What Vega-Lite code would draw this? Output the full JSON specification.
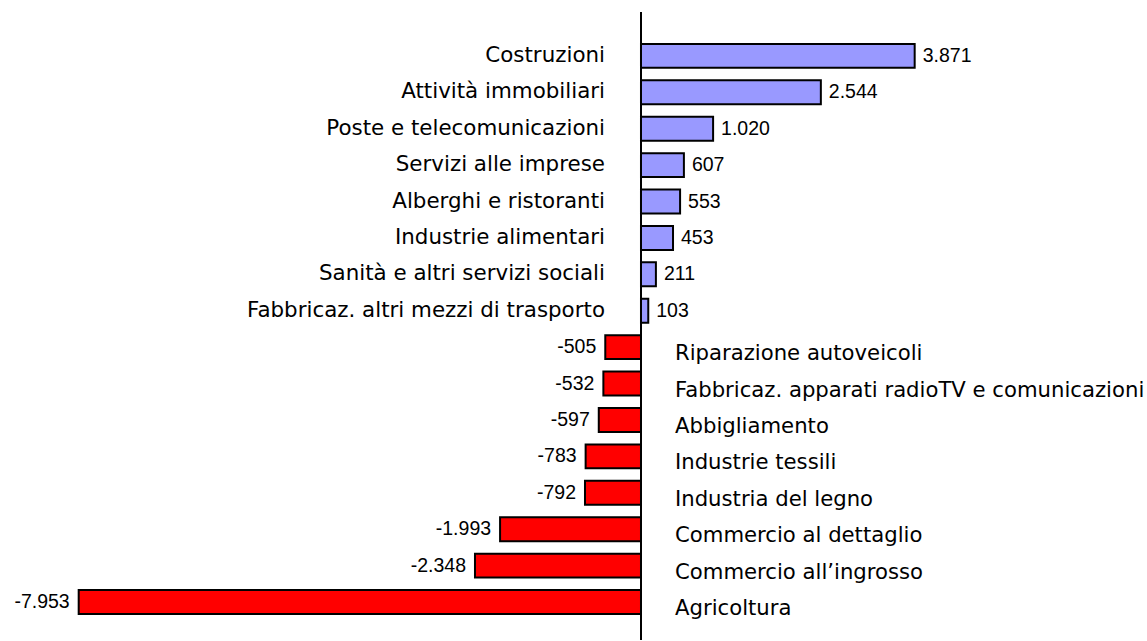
{
  "$schema": "https://vega.github.io/schema/vega-lite/v6.json",
  "width": 1147,
  "height": 641,
  "autosize": {"type": "fit", "contains": "padding"},
  "padding": {"left": 0, "right": 0, "top": 11, "bottom": 0},
  "background": "white",
  "config": {
    "view": {"stroke": null},
    "locale": {"number": {"decimal": ",", "thousands": ".", "grouping": [3], "currency": ["€", ""], "minus": "-"}}
  },
  "data": {
    "values": [
      {"settore": "Costruzioni", "valore": 3871},
      {"settore": "Attività immobiliari", "valore": 2544},
      {"settore": "Poste e telecomunicazioni", "valore": 1020},
      {"settore": "Servizi alle imprese", "valore": 607},
      {"settore": "Alberghi e ristoranti", "valore": 553},
      {"settore": "Industrie alimentari", "valore": 453},
      {"settore": "Sanità e altri servizi sociali", "valore": 211},
      {"settore": "Fabbricaz. altri mezzi di trasporto", "valore": 103},
      {"settore": "Riparazione autoveicoli", "valore": -505},
      {"settore": "Fabbricaz. apparati radioTV e comunicazioni", "valore": -532},
      {"settore": "Abbigliamento", "valore": -597},
      {"settore": "Industrie tessili", "valore": -783},
      {"settore": "Industria del legno", "valore": -792},
      {"settore": "Commercio al dettaglio", "valore": -1993},
      {"settore": "Commercio all’ingrosso", "valore": -2348},
      {"settore": "Agricoltura", "valore": -7953}
    ]
  },
  "encoding": {
    "y": {
      "field": "settore", "type": "nominal", "sort": null, "axis": null,
      "scale": {"paddingInner": 0.343, "paddingOuter": 0.795, "align": 0.551}
    }
  },
  "layer": [
    {
      "mark": {"type": "bar", "stroke": "black", "strokeWidth": 2},
      "encoding": {
        "x": {"field": "valore", "type": "quantitative", "axis": null,
              "scale": {"domain": [-9066, 7157], "nice": false, "zero": false}},
        "color": {
          "condition": {"test": "datum.valore > 0", "value": "#9999FF"},
          "value": "#FF0000"
        }
      }
    },
    {
      "mark": {"type": "rule", "color": "black", "strokeWidth": 1.5},
      "encoding": {"x": {"datum": 0, "type": "quantitative"}, "y": null}
    },
    {
      "transform": [{"filter": "datum.valore > 0"}],
      "mark": {"type": "text", "align": "right", "baseline": "middle", "dx": -36, "font": "DejaVu Sans", "fontSize": 21.4, "color": "black"},
      "encoding": {
        "x": {"datum": 0, "type": "quantitative"},
        "text": {"field": "settore"}
      }
    },
    {
      "transform": [{"filter": "datum.valore < 0"}],
      "mark": {"type": "text", "align": "left", "baseline": "middle", "dx": 34, "dy": 7, "font": "DejaVu Sans", "fontSize": 21.2, "color": "black"},
      "encoding": {
        "x": {"datum": 0, "type": "quantitative"},
        "text": {"field": "settore"}
      }
    },
    {
      "transform": [{"filter": "datum.valore > 0"}],
      "mark": {"type": "text", "align": "left", "baseline": "middle", "dx": 8, "font": "Liberation Sans", "fontSize": 19.5, "color": "black"},
      "encoding": {
        "x": {"field": "valore", "type": "quantitative"},
        "text": {"field": "valore", "type": "quantitative", "format": ",.0f"}
      }
    },
    {
      "transform": [{"filter": "datum.valore < 0"}],
      "mark": {"type": "text", "align": "right", "baseline": "middle", "dx": -9, "dy": 0, "font": "Liberation Sans", "fontSize": 19.5, "color": "black"},
      "encoding": {
        "x": {"field": "valore", "type": "quantitative"},
        "text": {"field": "valore", "type": "quantitative", "format": ",.0f"}
      }
    }
  ]
}
